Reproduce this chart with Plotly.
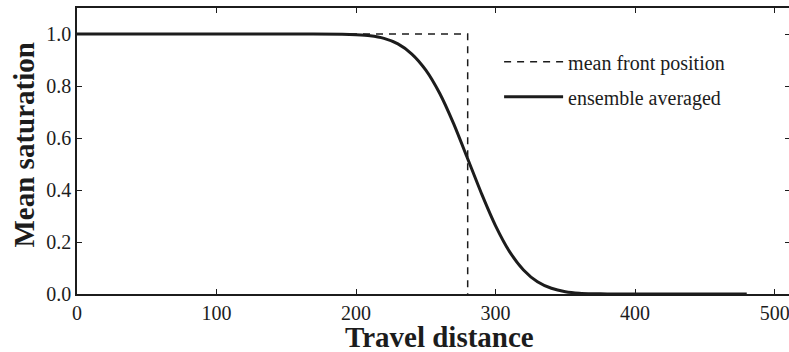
import plotly.graph_objects as go

# Data
front_x = [0, 280, 280]
front_y = [1.0, 1.0, 0.0]

dist = [0, 50, 100, 150, 190, 200, 210, 220, 230, 240, 250, 260, 270, 280,
        290, 300, 310, 320, 330, 340, 350, 360, 370, 380, 400, 440, 480]
sat = [1.0, 1.0, 1.0, 1.0, 0.999, 0.997, 0.993, 0.983, 0.962, 0.923, 0.861,
       0.771, 0.654, 0.52, 0.385, 0.262, 0.163, 0.0925, 0.047, 0.022, 0.009,
       0.003, 0.001, 0.0003, 0.0, 0.0, 0.0]

x_ticks = [0, 100, 200, 300, 400, 500]
y_ticks = [0.0, 0.2, 0.4, 0.6, 0.8, 1.0]

x_title = "Travel distance"
y_title = "Mean saturation"

ink = "#1c1c1c"
font = "Liberation Serif, Times New Roman, Times, serif"

fig = go.Figure()
fig.add_trace(go.Scatter(
    x=front_x, y=front_y, mode="lines", name="mean front position",
    legendgroup="a",
    line=dict(color=ink, width=1.5, dash="7px,6px"),
))
fig.add_trace(go.Scatter(
    x=dist, y=sat, mode="lines", name="ensemble averaged",
    legendgroup="b",
    line=dict(color=ink, width=3, shape="spline", smoothing=0.6),
))

axis_common = dict(
    showgrid=False, zeroline=False, showline=True, linecolor=ink,
    linewidth=1.5, mirror="allticks", ticks="inside", ticklen=5,
    tickwidth=1, tickcolor=ink, automargin=False,
    tickfont=dict(family=font, size=20, color=ink),
)

title_font = dict(family=font, size=29, color=ink)

fig.update_layout(
    width=790, height=352,
    margin=dict(l=77, r=0, t=8, b=58),
    paper_bgcolor="white", plot_bgcolor="white",
    font=dict(family=font, color=ink),
    showlegend=True,
    legend=dict(
        x=0.592, y=0.88, xanchor="left", yanchor="top",
        bgcolor="rgba(0,0,0,0)", borderwidth=0,
        font=dict(family=font, size=20, color=ink),
        itemwidth=59, traceorder="grouped", tracegroupgap=6,
    ),
    xaxis=dict(range=[0, 511], tickvals=x_ticks,
               ticktext=[str(v) for v in x_ticks], **axis_common),
    yaxis=dict(range=[0, 1.1], tickvals=y_ticks,
               ticktext=[f"{v:.1f}" for v in y_ticks], **axis_common),
    annotations=[
        dict(text=f"<b>{x_title}</b>", xref="paper", yref="paper",
             x=(440 - 77) / 713, y=(294 - 337) / 286,
             xanchor="center", yanchor="middle", showarrow=False,
             font=title_font),
        dict(text=f"<b>{y_title}</b>", xref="paper", yref="paper",
             x=(23 - 77) / 713, y=(294 - 145.5) / 286, textangle=-90,
             xanchor="center", yanchor="middle", showarrow=False,
             font=title_font),
    ],
)

fig.write_html(
    "out.html",
    config={"displayModeBar": False},
    post_script="document.body.style.margin='0';document.body.style.overflow='hidden';",
)
